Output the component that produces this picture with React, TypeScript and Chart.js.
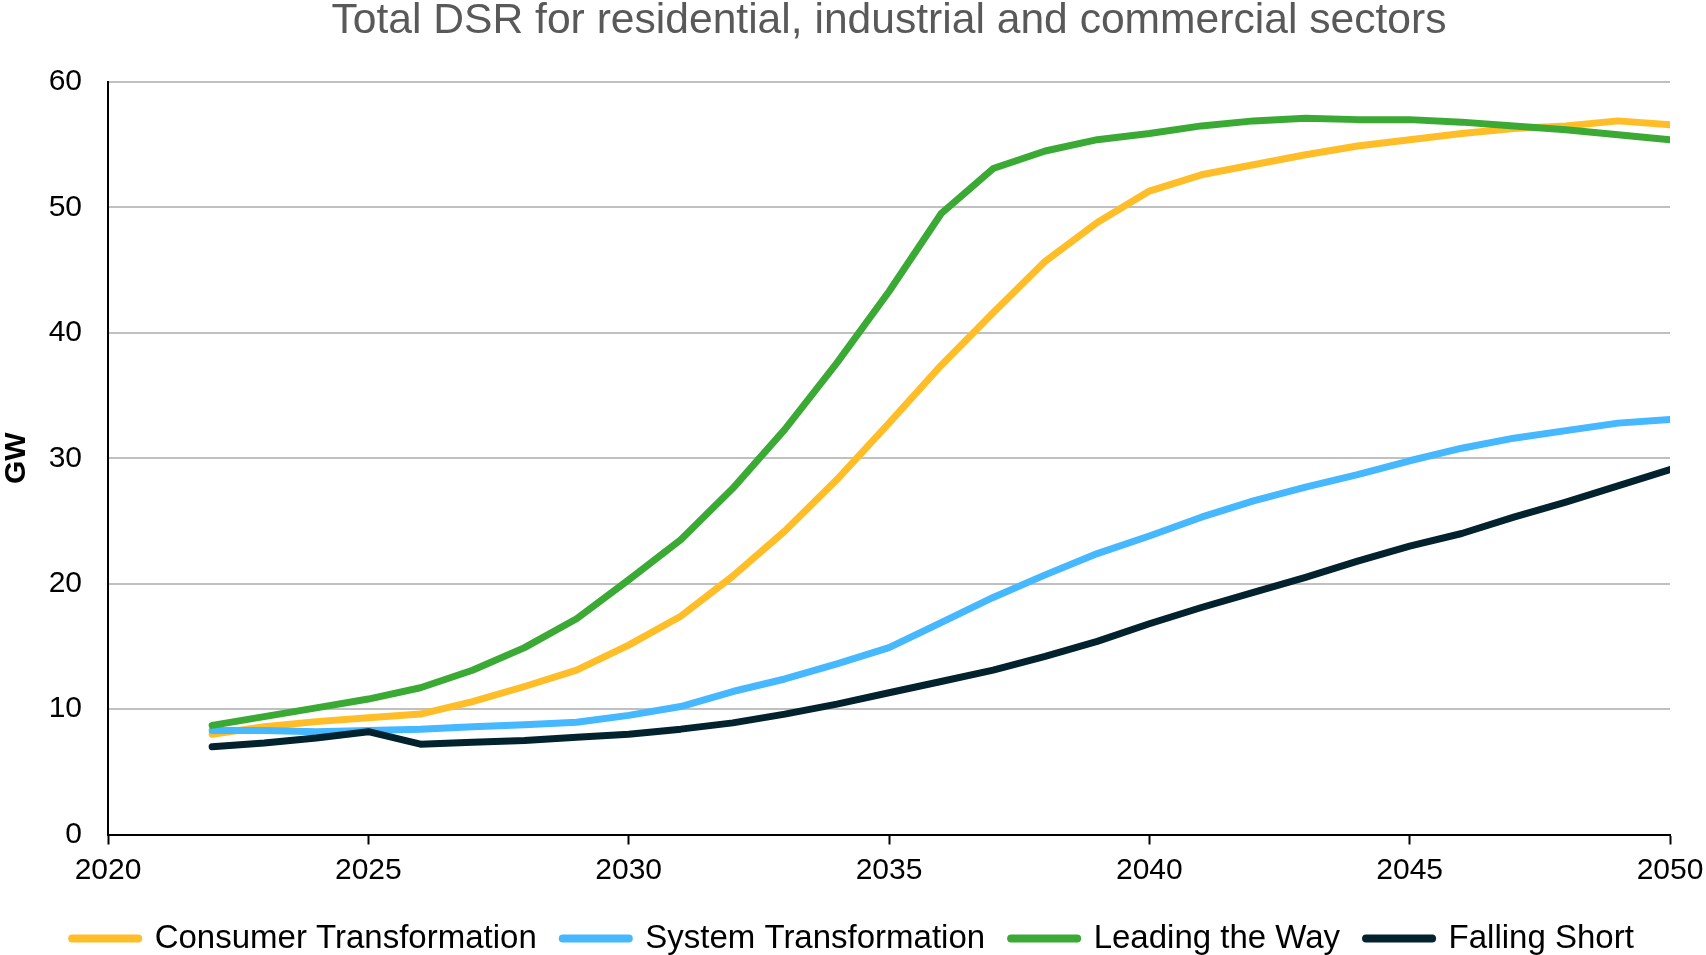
import React, { useEffect, useRef } from "react";
import { Chart, registerables } from "chart.js";

Chart.register(...registerables);

const years = [
  2022, 2023, 2024, 2025, 2026, 2027, 2028, 2029, 2030, 2031, 2032, 2033, 2034, 2035, 2036,
  2037, 2038, 2039, 2040, 2041, 2042, 2043, 2044, 2045, 2046, 2047, 2048, 2049, 2050,
];

const consumerTransformation = [
  8.0, 8.6, 9.0, 9.3, 9.6, 10.6, 11.8, 13.1, 15.1, 17.4, 20.6, 24.2, 28.3, 32.8, 37.4,
  41.6, 45.7, 48.8, 51.3, 52.6, 53.4, 54.2, 54.9, 55.4, 55.9, 56.3, 56.5, 56.9, 56.6,
];

const systemTransformation = [
  8.3, 8.3, 8.2, 8.3, 8.4, 8.6, 8.75, 8.95, 9.5, 10.2, 11.4, 12.4, 13.6, 14.9, 16.9,
  18.9, 20.7, 22.4, 23.8, 25.3, 26.6, 27.7, 28.7, 29.8, 30.8, 31.6, 32.2, 32.8, 33.1,
];

const leadingTheWay = [
  8.7, 9.4, 10.1, 10.8, 11.7, 13.1, 14.9, 17.2, 20.3, 23.5, 27.6, 32.3, 37.6, 43.3, 49.5,
  53.1, 54.5, 55.4, 55.9, 56.5, 56.9, 57.1, 57.0, 57.0, 56.8, 56.5, 56.2, 55.8, 55.4,
];

const fallingShort = [
  7.0, 7.3, 7.7, 8.2, 7.2, 7.35, 7.5, 7.75, 8.0, 8.4, 8.9, 9.6, 10.4, 11.3, 12.2,
  13.1, 14.2, 15.4, 16.8, 18.1, 19.3, 20.5, 21.8, 23.0, 24.0, 25.3, 26.5, 27.8, 29.1,
];

const seriesNames = [
  "Consumer Transformation",
  "System Transformation",
  "Leading the Way",
  "Falling Short",
];
const seriesColors = ["#FFBE28", "#45B8FF", "#3AAA35", "#02222E"];
const seriesValues = [consumerTransformation, systemTransformation, leadingTheWay, fallingShort];

const xTicks = [2020, 2025, 2030, 2035, 2040, 2045, 2050];
const yTicks = [0, 10, 20, 30, 40, 50, 60];

const titleText = "Total DSR for residential, industrial and commercial sectors";
const yAxisTitle = "GW";
const FONT = "'Liberation Sans', Arial, sans-serif";

export default function App() {
  const ref = useRef<HTMLCanvasElement>(null);

  useEffect(() => {
    const datasets = seriesNames.map((name, i) => ({
      label: name,
      data: years.map((y, j) => ({ x: y, y: seriesValues[i][j] })),
      borderColor: seriesColors[i],
      backgroundColor: seriesColors[i],
      borderWidth: 7,
      pointRadius: 0,
      pointHoverRadius: 0,
      tension: 0,
      fill: false,
      borderCapStyle: "round" as const,
      borderJoinStyle: "round" as const,
      order: seriesNames.length - i,
    }));

    const chart = new Chart(ref.current!, {
      type: "line",
      data: { datasets },
      options: {
        animation: false,
        responsive: true,
        maintainAspectRatio: false,
        layout: { padding: { left: 0, right: 0, top: 0, bottom: -10 } },
        plugins: {
          title: {
            display: true,
            text: titleText,
            fullSize: false,
            color: "#595959",
            font: { family: FONT, size: 42.6, weight: "normal", lineHeight: 1.0 },
            padding: { top: 0, bottom: 39.4 },
          },
          legend: {
            display: true,
            position: "bottom",
            labels: {
              usePointStyle: true,
              pointStyle: "line",
              pointStyleWidth: 66,
              padding: 26,
              color: "#000",
              font: { family: FONT, size: 33 },
              generateLabels: (c: any) =>
                c.data.datasets.map((ds: any, i: number) => ({
                  text: ds.label,
                  fillStyle: ds.borderColor,
                  strokeStyle: ds.borderColor,
                  lineWidth: 8,
                  lineCap: "round",
                  pointStyle: "line",
                  hidden: false,
                  datasetIndex: i,
                  fontColor: "#000",
                })),
            },
          },
          tooltip: { enabled: false },
        },
        scales: {
          x: {
            type: "linear",
            min: 2020,
            max: 2050,
            afterBuildTicks: (s: any) => {
              s.ticks = xTicks.map((v) => ({ value: v }));
            },
            afterFit: (s: any) => {
              s.paddingRight = 36;
            },
            ticks: {
              color: "#000",
              font: { family: FONT, size: 30, lineHeight: 1.0 },
              padding: 10.75,
              maxRotation: 0,
              callback: (v: any) => String(v),
            },
            grid: {
              display: true,
              drawOnChartArea: false,
              drawTicks: true,
              tickLength: 10,
              tickColor: "#000",
              tickWidth: 2,
            },
            border: { display: true, color: "#000", width: 2 },
          },
          y: {
            type: "linear",
            min: 0,
            max: 60,
            afterBuildTicks: (s: any) => {
              s.ticks = yTicks.map((v) => ({ value: v }));
            },
            afterFit: (s: any) => {
              s.width = 108;
            },
            title: {
              display: true,
              text: yAxisTitle,
              color: "#000",
              font: { family: FONT, size: 30, weight: "bold", lineHeight: 1.1 },
              padding: 0,
            },
            ticks: {
              color: "#000",
              font: { family: FONT, size: 30 },
              padding: 26,
              callback: (v: any) => String(v),
            },
            grid: {
              display: true,
              drawTicks: false,
              color: (ctx: any) => (ctx.tick && ctx.tick.value === 0 ? "rgba(0,0,0,0)" : "#C0C0C0"),
              lineWidth: 2,
            },
            border: { display: true, color: "#000", width: 2 },
          },
        },
      },
    });
    return () => chart.destroy();
  }, []);

  return (
    <div
      style={{
        position: "fixed",
        left: 0,
        top: 0,
        width: 1706,
        height: 955,
        background: "#fff",
      }}
    >
      <canvas ref={ref} />
    </div>
  );
}
